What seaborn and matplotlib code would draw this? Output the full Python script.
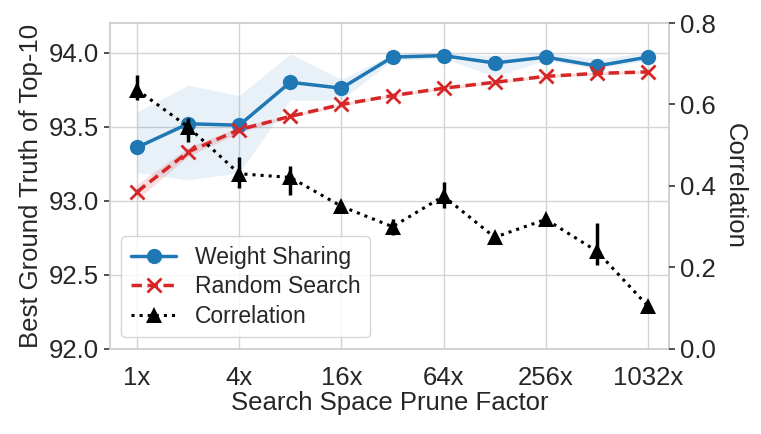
import numpy as np
import matplotlib
matplotlib.use("Agg")
import matplotlib.pyplot as plt
import seaborn as sns

# ============================
# Data
# ============================
factors = ["1x", "2x", "4x", "8x", "16x", "32x", "64x", "128x", "256x", "512x", "1032x"]

ws_mean = [93.36, 93.52, 93.51, 93.80, 93.76, 93.97, 93.98, 93.93, 93.97, 93.91, 93.97]
ws_low = [93.19, 93.14, 93.19, 93.68, 93.68, 93.95, 93.96, 93.84, 93.95, 93.89, 93.95]
ws_high = [93.60, 93.78, 93.71, 93.99, 93.82, 93.99, 94.00, 93.98, 94.00, 93.96, 94.00]

rs_mean = [93.06, 93.33, 93.48, 93.57, 93.65, 93.71, 93.76, 93.80, 93.84, 93.86, 93.87]
rs_low = [93.01, 93.30, 93.46, 93.56, 93.64, 93.70, 93.75, 93.79, 93.83, 93.85, 93.86]
rs_high = [93.11, 93.36, 93.50, 93.58, 93.66, 93.72, 93.77, 93.81, 93.85, 93.87, 93.88]

corr = [0.636, 0.545, 0.430, 0.421, 0.350, 0.300, 0.375, 0.274, 0.318, 0.240, 0.105]
corr_lo = [0.610, 0.509, 0.396, 0.379, 0.340, 0.280, 0.347, 0.265, 0.310, 0.205, 0.100]
corr_hi = [0.672, 0.567, 0.472, 0.450, 0.360, 0.320, 0.410, 0.280, 0.325, 0.310, 0.110]

tick_idx = [0, 2, 4, 6, 8, 10]

# ============================
# Style
# ============================
sns.set_theme(style="whitegrid")
plt.rcParams["font.family"] = ["Liberation Sans", "DejaVu Sans"]
plt.rcParams["axes.edgecolor"] = "#cccccc"
plt.rcParams["grid.color"] = "#d4d4d4"

FS = 18.5
x = np.arange(len(factors))

fig = plt.figure(figsize=(7.61, 4.34), dpi=100)
ax = fig.add_axes([0.1445, 0.196, 0.7345, 0.751])
ax2 = ax.twinx()

# ============================
# Accuracy lines (left axis)
# ============================
ax.fill_between(x, ws_low, ws_high, color="tab:blue", alpha=0.1, lw=0)
ax.fill_between(x, rs_low, rs_high, color="tab:red", alpha=0.15, lw=0)
sns.lineplot(x=x, y=ws_mean, ax=ax, color="tab:blue", marker="o", markersize=11,
             markeredgewidth=0, linewidth=2.5, label="Weight Sharing", legend=False)
sns.lineplot(x=x, y=rs_mean, ax=ax, color="tab:red", marker="x", markersize=10,
             markeredgewidth=2, markeredgecolor="tab:red", linewidth=2.5,
             linestyle=(0, (3, 1.6)), label="Random Search", legend=False)

# ============================
# Correlation (right axis)
# ============================
yerr = [np.array(corr) - np.array(corr_lo), np.array(corr_hi) - np.array(corr)]
ax2.errorbar(x, corr, yerr=yerr, fmt="none", ecolor="black", elinewidth=2.5, capsize=0)
sns.lineplot(x=x, y=corr, ax=ax2, color="black", marker="^", markersize=11,
             markeredgewidth=0, linewidth=2.2, linestyle=":", label="Correlation",
             legend=False)

# ============================
# Axes
# ============================
ax.set_xlim(-0.53, 10.41)
ax.set_ylim(92.0, 94.2)
ax.set_yticks([92.0, 92.5, 93.0, 93.5, 94.0])
ax.set_yticklabels(["92.0", "92.5", "93.0", "93.5", "94.0"])
ax.set_xticks(tick_idx)
ax.set_xticklabels([factors[i] for i in tick_idx])
ax.tick_params(axis="both", labelsize=FS, colors="#262626")
ax.tick_params(axis="y", left=True, length=4, width=1.2, color="#333333", pad=4)
ax.tick_params(axis="x", bottom=False, pad=6)
ax.set_xlabel("Search Space Prune Factor", fontsize=FS, color="#262626", labelpad=1)
ax.set_ylabel("Best Ground Truth of Top-10", fontsize=FS, color="#262626", labelpad=4)

ax2.set_ylim(0.0, 0.8)
ax2.set_yticks([0.0, 0.2, 0.4, 0.6, 0.8])
ax2.set_yticklabels(["0.0", "0.2", "0.4", "0.6", "0.8"])
ax2.grid(False)
ax2.tick_params(axis="y", right=True, length=4, width=1.2, color="#333333",
                labelsize=FS, colors="#262626", pad=4)
ax2.set_ylabel("Correlation", fontsize=FS, color="#262626", rotation=270, labelpad=22)
for s in ax2.spines.values():
    s.set_visible(False)

h1, l1 = ax.get_legend_handles_labels()
h2, l2 = ax2.get_legend_handles_labels()
leg = ax2.legend(h1 + h2, l1 + l2, loc="lower left", fontsize=16.5, frameon=True,
                 bbox_to_anchor=(0.0, 0.0), handlelength=2.0, labelspacing=0.3)
leg.get_frame().set_edgecolor("#cccccc")
for t in leg.get_texts():
    t.set_color("#262626")

fig.savefig("out.png", dpi=100)
